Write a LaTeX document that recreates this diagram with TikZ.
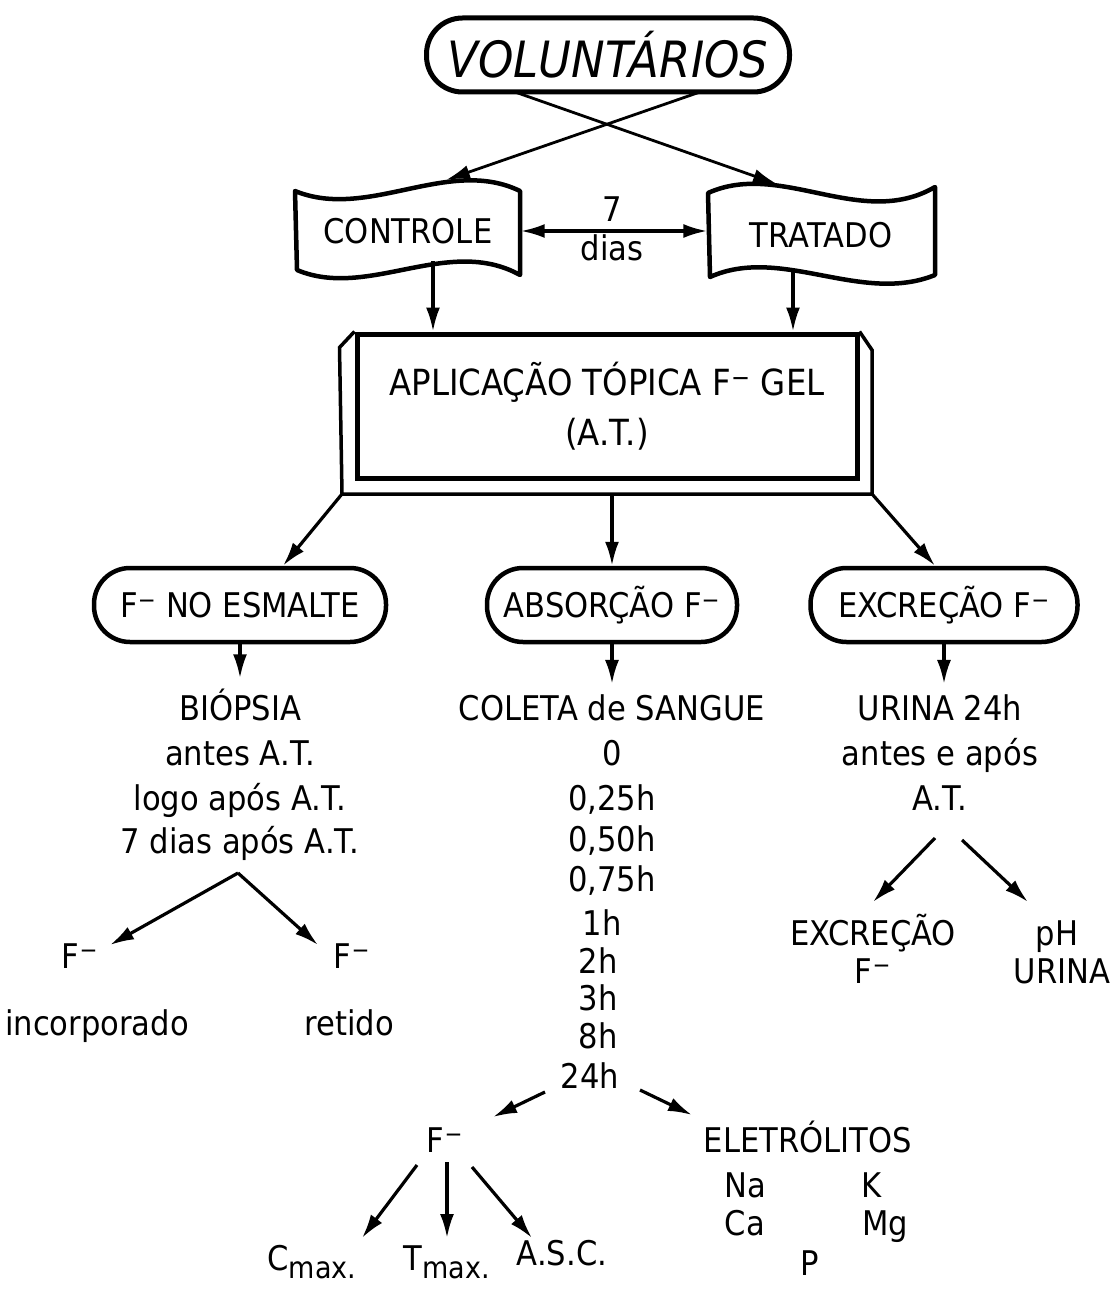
\documentclass[tikz,border=0pt]{standalone}
\usepackage{fontspec}
\setmainfont{DejaVu Sans}[FakeStretch=0.9]
\usetikzlibrary{arrows.meta,calc}
\newcommand{\Fm}{F\textsuperscript{−}}
\newcommand{\sbx}[1]{\raisebox{-0.45ex}{\fontsize{30}{30}\selectfont #1}}
\begin{document}
\begin{tikzpicture}[x=1pt,y=-1pt,
  txt/.style={font=\fontsize{34}{40}\selectfont, inner sep=0pt, anchor=base},
  pill/.style={draw, line width=4.5pt, rounded corners=36pt, minimum height=74pt, inner sep=0pt, font=\fontsize{34}{40}\selectfont},
  arr/.style={-{Latex[length=24pt,width=14pt]}, line width=3.2pt},
  darr/.style={{Latex[length=24pt,width=14pt]}-{Latex[length=24pt,width=14pt]}, line width=3.2pt},
  wave/.style={line width=4.5pt, line join=round},
  wbox/.style={minimum width=225pt, minimum height=80pt, inner sep=0pt, font=\fontsize{34}{40}\selectfont},
]
\useasboundingbox[fill=white] (0,0) rectangle (1114,1289);

% top
\node[pill, line width=5pt, minimum width=363pt, font=\fontsize{50}{56}\selectfont\itshape] (vol) at (608,55) {VOLUNTÁRIOS};
\coordinate (v1) at (515,92);
\coordinate (v2) at (700,92);

% wavy boxes
\node[wbox] (ctrl) at (408,231) {CONTROLE};
\begin{scope}[shift={(ctrl.center)}]
  \draw[wave] (-113,-40) .. controls (-40,-10) and (40,-75) .. (112,-40) -- (112,44)
     .. controls (40,4) and (-40,69) .. (-111,39) -- cycle;
  \coordinate (ctop) at (38,-51);
  \coordinate (cbot) at (25,30);
\end{scope}
\node[wbox, minimum width=227pt] (trat) at (821,235) {TRATADO};
\begin{scope}[shift={(trat.center)}]
  \draw[wave] (-113,-42) .. controls (-40,-75) and (40,-5) .. (114,-48) -- (114,40)
     .. controls (40,70) and (-40,10) .. (-111,42) -- cycle;
  \coordinate (ttop) at (-44,-51);
  \coordinate (tbot) at (-28,35);
\end{scope}

\draw[arr, line width=2.8pt] (v2) -- (ctop);
\draw[arr, line width=2.8pt] (v1) -- (ttop);

\draw[darr] (ctrl.east) -- (ctrl.east -| trat.west);
\node[txt] (sete) at (612,222) {7};
\node[txt] (dias) at (612,260) {dias};

% big box
\node[draw, line width=5pt, minimum width=500pt, minimum height=144pt, inner sep=0pt,
      align=center, font=\fontsize{36}{50}\selectfont] (apl) at (607,406)
      {APLICAÇÃO TÓPICA \Fm{} GEL\\(A.T.)};
\coordinate (obl) at (342,494);
\coordinate (obr) at (872,494);
\draw[line width=3.5pt, line join=miter] (apl.north west) -- ++(-15,16) -- (obl) -- (obr) -- (872,350) -- (apl.north east);

\draw[arr] (cbot) -- (cbot |- apl.north);
\draw[arr] (tbot) -- (tbot |- apl.north);

% second level pills
\node[pill, minimum width=292pt] (esm) at (240,605) {\Fm{} NO ESMALTE};
\node[pill, minimum width=250pt] (abs) at (612,605) {ABSORÇÃO \Fm};
\node[pill, minimum width=267pt] (exc) at (944,605) {EXCREÇÃO \Fm};

\draw[arr] (obl) -- ($(esm.north)+(43,0)$);
\draw[arr] (abs.north |- obl) -- (abs.north);
\draw[arr] (obr) -- ($(exc.north)+(-9,0)$);

% left column
\node[txt] (bio) at (240,720) {BIÓPSIA};
\node[txt] (b1) at (240,765) {antes A.T.};
\node[txt] (b2) at (240,810) {logo após A.T.};
\node[txt] (b3) at (240,853) {7 dias após A.T.};
\draw[arr] (esm.south) -- ($(esm.south |- bio.north)+(0,-10)$);
\coordinate (bsplit) at (238,873);
\coordinate (bl) at (110,945);
\coordinate (br) at (318,945);
\draw[arr] (bsplit) -- (bl);
\draw[arr] (bsplit) -- (br);
\node[txt] (fi1) at (80,968) {\Fm};
\node[txt] (fi2) at (97,1035) {incorporado};
\node[txt] (fr1) at (352,968) {\Fm};
\node[txt] (fr2) at (349,1035) {retido};

% middle column
\node[txt] (col) at (612,720) {COLETA de SANGUE};
\node[txt] (t0) at (612,765) {0};
\node[txt] (t1) at (612,810) {0,25h};
\node[txt] (t2) at (612,851) {0,50h};
\node[txt] (t3) at (612,891) {0,75h};
\node[txt] (t4) at (602,935) {1h};
\node[txt] (t5) at (598,973) {2h};
\node[txt] (t6) at (598,1010) {3h};
\node[txt] (t7) at (598,1048) {8h};
\node[txt] (t8) at (590,1088) {24h};
\draw[arr] (abs.south) -- ($(abs.south |- col.north)+(0,-10)$);

\coordinate (m1) at (545,1092);
\coordinate (m2) at (640,1090);
\coordinate (m1e) at (493,1117);
\coordinate (m2e) at (692,1115);
\draw[arr] (m1) -- (m1e);
\draw[arr] (m2) -- (m2e);

\node[txt] (fs) at (445,1152) {\Fm};
\node[txt] (ele) at (808,1152) {ELETRÓLITOS};
\node[txt] (na) at (745,1197) {Na};
\node[txt] (k) at (872,1197) {K};
\node[txt] (ca) at (745,1235) {Ca};
\node[txt] (mg) at (885,1235) {Mg};
\node[txt] (p) at (810,1275) {P};

\coordinate (f1) at (417,1165);
\coordinate (f2) at (447,1162);
\coordinate (f3) at (472,1167);
\coordinate (f1e) at (362,1238);
\coordinate (f2e) at (447,1238);
\coordinate (f3e) at (532,1238);
\draw[arr] (f1) -- (f1e);
\draw[arr] (f2) -- (f2e);
\draw[arr] (f3) -- (f3e);

\node[txt] (cmax) at (312,1270) {C\sbx{max.}};
\node[txt] (tmax) at (447,1270) {T\sbx{max.}};
\node[txt] (asc) at (562,1265) {A.S.C.};

% right column
\node[txt] (ur) at (940,720) {URINA 24h};
\node[txt] (r1) at (940,765) {antes e após};
\node[txt] (r2) at (940,810) {A.T.};
\draw[arr] (exc.south) -- ($(exc.south |- ur.north)+(0,-10)$);
\coordinate (rs1) at (935,838);
\coordinate (rs2) at (962,840);
\coordinate (rs1e) at (873,902);
\coordinate (rs2e) at (1028,902);
\draw[arr] (rs1) -- (rs1e);
\draw[arr] (rs2) -- (rs2e);
\node[txt] (ex1) at (873,945) {EXCREÇÃO};
\node[txt] (ex2) at (873,983) {\Fm};
\node[txt] (ph1) at (1057,945) {pH};
\node[txt] (ph2) at (1062,983) {URINA};
\end{tikzpicture}
\end{document}
